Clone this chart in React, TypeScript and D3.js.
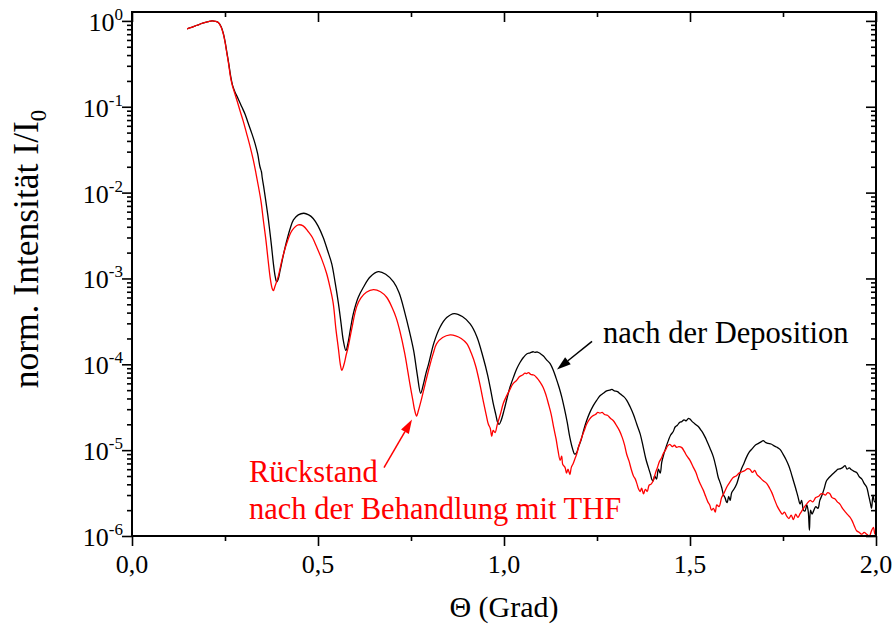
import React, { useEffect, useRef } from "react";
import * as d3 from "d3";

// Reflectivity curves: [theta in degrees, normalised intensity I/I0]
const depositionCurve: [number, number][] = [
  [0.148, 0.81], [0.16, 0.84], [0.175, 0.89], [0.19, 0.94], [0.205, 0.98], [0.215, 1.0],
  [0.224, 0.99], [0.232, 0.96], [0.24, 0.85], [0.246, 0.7], [0.25, 0.58], [0.255, 0.43],
  [0.26, 0.32], [0.265, 0.23], [0.27, 0.18], [0.277, 0.148], [0.285, 0.125], [0.295, 0.1],
  [0.304, 0.082], [0.312, 0.065], [0.322, 0.049], [0.331, 0.037], [0.338, 0.028], [0.344, 0.02],
  [0.348, 0.0175], [0.35, 0.015], [0.355, 0.011], [0.36, 0.0078], [0.365, 0.0055], [0.369, 0.004],
  [0.375, 0.0024], [0.38, 0.0015], [0.385, 0.00105], [0.389, 0.00091], [0.393, 0.00098],
  [0.398, 0.00123], [0.406, 0.0018], [0.416, 0.00275], [0.425, 0.0038], [0.434, 0.0048],
  [0.447, 0.0055], [0.462, 0.00575], [0.475, 0.0055], [0.487, 0.005], [0.5, 0.0041],
  [0.514, 0.003], [0.526, 0.0021], [0.537, 0.00148], [0.546, 0.0009], [0.555, 0.00051],
  [0.562, 0.0003], [0.568, 0.00019], [0.575, 0.000145], [0.581, 0.00018], [0.588, 0.00027],
  [0.595, 0.00039], [0.608, 0.0006], [0.622, 0.00079], [0.64, 0.00104], [0.662, 0.0012],
  [0.682, 0.00112], [0.703, 0.00091], [0.718, 0.00068], [0.734, 0.00039], [0.745, 0.00025],
  [0.757, 0.000145], [0.767, 7.5e-5], [0.776, 4.6e-5], [0.783, 5.8e-5], [0.79, 7.8e-5],
  [0.797, 0.0001], [0.812, 0.00018], [0.828, 0.00027], [0.846, 0.00035], [0.866, 0.00039],
  [0.888, 0.00036], [0.909, 0.000295], [0.927, 0.00021], [0.944, 0.00012], [0.956, 7.5e-5],
  [0.965, 4.8e-5], [0.971, 3.5e-5], [0.978, 2.6e-5], [0.983, 2.1e-5], [0.987, 2.0e-5],
  [0.992, 2.2e-5], [1.0, 2.9e-5], [1.008, 4.0e-5], [1.016, 5.4e-5], [1.025, 7.0e-5],
  [1.034, 8.8e-5], [1.043, 1.05e-4], [1.052, 1.2e-4], [1.061, 1.32e-4], [1.07, 1.36e-4],
  [1.078, 1.4e-4], [1.083, 1.38e-4], [1.09, 1.39e-4], [1.098, 1.33e-4], [1.106, 1.25e-4],
  [1.115, 1.12e-4], [1.124, 1.02e-4], [1.133, 8.4e-5], [1.14, 6.9e-5], [1.148, 5.4e-5],
  [1.155, 4.2e-5], [1.162, 3.1e-5], [1.17, 2.1e-5], [1.177, 1.41e-5], [1.184, 1.05e-5],
  [1.19, 9.0e-6], [1.195, 9.3e-6], [1.2, 1.08e-5], [1.207, 1.3e-5], [1.214, 1.7e-5],
  [1.222, 2.2e-5], [1.23, 2.7e-5], [1.24, 3.3e-5], [1.249, 3.8e-5], [1.258, 4.3e-5],
  [1.267, 4.6e-5], [1.276, 4.9e-5], [1.284, 5.0e-5], [1.29, 5.1e-5], [1.297, 4.9e-5],
  [1.305, 4.8e-5], [1.313, 4.5e-5], [1.322, 4.2e-5], [1.33, 3.8e-5], [1.339, 3.2e-5],
  [1.348, 2.6e-5], [1.357, 2.0e-5], [1.366, 1.55e-5], [1.374, 1.1e-5], [1.381, 8.0e-6],
  [1.388, 6.3e-6], [1.394, 5.2e-6], [1.398, 4.5e-6], [1.401, 4.4e-6], [1.405, 5.0e-6],
  [1.41, 4.6e-6], [1.415, 6.0e-6], [1.42, 5.4e-6], [1.424, 7.2e-6], [1.43, 9.1e-6],
  [1.436, 1.1e-5], [1.442, 1.3e-5], [1.448, 1.5e-5], [1.455, 1.65e-5], [1.46, 1.86e-5],
  [1.466, 1.95e-5], [1.472, 2.1e-5], [1.478, 2.15e-5], [1.484, 2.25e-5], [1.49, 2.2e-5],
  [1.496, 2.35e-5], [1.5, 2.3e-5], [1.506, 2.15e-5], [1.512, 2.05e-5], [1.518, 1.95e-5],
  [1.524, 1.85e-5], [1.53, 1.7e-5], [1.536, 1.55e-5], [1.542, 1.38e-5], [1.548, 1.2e-5],
  [1.555, 1.02e-5], [1.563, 8.3e-6], [1.57, 6.3e-6], [1.576, 4.8e-6], [1.58, 4.3e-6],
  [1.585, 3.7e-6], [1.59, 3.0e-6], [1.594, 2.8e-6], [1.598, 2.5e-6], [1.6, 2.45e-6],
  [1.604, 2.9e-6], [1.608, 2.6e-6], [1.612, 3.2e-6], [1.618, 3.5e-6], [1.626, 4.1e-6],
  [1.632, 5.0e-6], [1.638, 6.0e-6], [1.645, 7.0e-6], [1.652, 8.3e-6], [1.66, 9.6e-6],
  [1.668, 1.05e-5], [1.676, 1.15e-5], [1.684, 1.2e-5], [1.69, 1.24e-5], [1.697, 1.29e-5],
  [1.703, 1.23e-5], [1.71, 1.2e-5], [1.718, 1.18e-5], [1.726, 1.12e-5], [1.734, 1.08e-5],
  [1.742, 1.02e-5], [1.75, 9.0e-6], [1.758, 7.8e-6], [1.766, 6.5e-6], [1.772, 5.4e-6],
  [1.778, 4.4e-6], [1.784, 3.6e-6], [1.79, 2.9e-6], [1.796, 2.35e-6], [1.8, 2.6e-6],
  [1.805, 2.0e-6], [1.809, 1.95e-6], [1.814, 2.3e-6], [1.818, 1.9e-6], [1.821, 1.17e-6],
  [1.824, 2.0e-6], [1.828, 1.8e-6], [1.832, 1.95e-6], [1.838, 2.2e-6], [1.844, 2.1e-6],
  [1.849, 2.6e-6], [1.855, 3.0e-6], [1.861, 3.6e-6], [1.867, 4.4e-6], [1.874, 4.8e-6],
  [1.882, 5.2e-6], [1.89, 5.6e-6], [1.898, 6.0e-6], [1.905, 6.1e-6], [1.911, 6.3e-6],
  [1.917, 6.6e-6], [1.922, 6.0e-6], [1.928, 6.2e-6], [1.934, 5.9e-6], [1.94, 5.7e-6],
  [1.948, 5.5e-6], [1.955, 4.9e-6], [1.962, 4.6e-6], [1.968, 4.1e-6], [1.975, 3.7e-6],
  [1.98, 3.0e-6], [1.985, 2.4e-6], [1.988, 2.1e-6], [1.992, 3.0e-6], [1.996, 2.5e-6],
  [2.0, 2.6e-6],
];

const residueCurve: [number, number][] = [
  [0.148, 0.81], [0.16, 0.84], [0.175, 0.89], [0.19, 0.94], [0.205, 0.98], [0.215, 1.0],
  [0.224, 0.99], [0.232, 0.96], [0.24, 0.84], [0.246, 0.69], [0.25, 0.57], [0.255, 0.42],
  [0.26, 0.31], [0.265, 0.22], [0.27, 0.175], [0.277, 0.14], [0.283, 0.115], [0.29, 0.091],
  [0.299, 0.068], [0.308, 0.049], [0.317, 0.035], [0.326, 0.024], [0.333, 0.017],
  [0.34, 0.0117], [0.347, 0.0078], [0.353, 0.0048], [0.36, 0.0028], [0.366, 0.00162],
  [0.372, 0.00098], [0.377, 0.00076], [0.38, 0.00072], [0.384, 0.0008], [0.393, 0.00105],
  [0.404, 0.0017], [0.416, 0.00257], [0.43, 0.0036], [0.447, 0.0042], [0.46, 0.0041],
  [0.474, 0.0035], [0.485, 0.003], [0.496, 0.00235], [0.51, 0.00168], [0.523, 0.00115],
  [0.532, 0.0008], [0.541, 0.00051], [0.548, 0.00026], [0.555, 0.00015], [0.56, 0.0001],
  [0.564, 8.5e-5], [0.57, 0.0001], [0.576, 0.00013], [0.581, 0.000158], [0.59, 0.00025],
  [0.604, 0.00047], [0.615, 0.00059], [0.63, 0.00069], [0.649, 0.00074], [0.668, 0.0007],
  [0.685, 0.0006], [0.7, 0.00045], [0.71, 0.00035], [0.72, 0.000245], [0.733, 0.000135],
  [0.742, 8.0e-5], [0.747, 5.9e-5], [0.755, 3.8e-5], [0.76, 2.9e-5], [0.765, 2.5e-5],
  [0.77, 2.9e-5], [0.778, 3.9e-5], [0.788, 5.9e-5], [0.8, 9.5e-5], [0.81, 0.000135],
  [0.819, 0.000174], [0.835, 0.000205], [0.855, 0.00022], [0.87, 0.000215], [0.885, 0.0002],
  [0.9, 0.000174], [0.912, 0.000135], [0.924, 9.5e-5], [0.935, 5.9e-5], [0.945, 3.6e-5],
  [0.952, 2.6e-5], [0.958, 2.0e-5], [0.963, 1.8e-5], [0.967, 1.45e-5], [0.971, 1.7e-5],
  [0.976, 1.6e-5], [0.982, 2.0e-5], [0.99, 2.6e-5], [0.998, 3.5e-5], [1.006, 4.2e-5],
  [1.015, 5.0e-5], [1.024, 5.9e-5], [1.034, 6.5e-5], [1.042, 7.2e-5], [1.05, 7.5e-5],
  [1.056, 7.9e-5], [1.061, 7.8e-5], [1.066, 8.0e-5], [1.072, 7.6e-5], [1.08, 7.5e-5],
  [1.089, 6.9e-5], [1.097, 6.2e-5], [1.105, 5.4e-5], [1.112, 4.5e-5], [1.12, 3.4e-5],
  [1.127, 2.6e-5], [1.134, 1.8e-5], [1.14, 1.35e-5], [1.145, 1.0e-5], [1.151, 7.6e-6],
  [1.155, 8.5e-6], [1.158, 6.8e-6], [1.164, 6.3e-6], [1.168, 5.4e-6], [1.172, 6.0e-6],
  [1.177, 5.2e-6], [1.181, 6.3e-6], [1.186, 7.0e-6], [1.19, 7.8e-6], [1.195, 8.9e-6],
  [1.202, 1.15e-5], [1.21, 1.45e-5], [1.216, 1.7e-5], [1.222, 2.0e-5], [1.23, 2.3e-5],
  [1.238, 2.5e-5], [1.246, 2.6e-5], [1.252, 2.75e-5], [1.258, 2.7e-5], [1.264, 2.75e-5],
  [1.27, 2.6e-5], [1.278, 2.55e-5], [1.286, 2.35e-5], [1.294, 2.2e-5], [1.302, 1.95e-5],
  [1.31, 1.7e-5], [1.318, 1.4e-5], [1.324, 1.15e-5], [1.33, 8.9e-6], [1.336, 7.5e-6],
  [1.342, 6.0e-6], [1.348, 5.0e-6], [1.353, 4.6e-6], [1.357, 4.1e-6], [1.362, 3.5e-6],
  [1.366, 3.3e-6], [1.37, 3.6e-6], [1.375, 3.1e-6], [1.38, 3.5e-6], [1.385, 3.3e-6],
  [1.39, 3.9e-6], [1.395, 4.0e-6], [1.401, 4.4e-6], [1.407, 5.4e-6], [1.412, 6.2e-6],
  [1.418, 7.4e-6], [1.424, 8.2e-6], [1.428, 9.1e-6], [1.434, 1.0e-5], [1.44, 1.12e-5],
  [1.446, 1.17e-5], [1.452, 1.1e-5], [1.458, 1.14e-5], [1.464, 1.08e-5], [1.47, 1.1e-5],
  [1.478, 1.07e-5], [1.485, 9.6e-6], [1.492, 8.5e-6], [1.5, 7.6e-6], [1.509, 6.3e-6],
  [1.516, 5.5e-6], [1.522, 4.6e-6], [1.528, 4.0e-6], [1.536, 3.4e-6], [1.542, 2.9e-6],
  [1.548, 2.5e-6], [1.553, 2.3e-6], [1.558, 2.0e-6], [1.563, 2.1e-6], [1.568, 1.9e-6],
  [1.572, 2.3e-6], [1.578, 2.2e-6], [1.585, 2.8e-6], [1.592, 3.2e-6], [1.6, 3.8e-6],
  [1.608, 4.3e-6], [1.616, 4.8e-6], [1.624, 5.0e-6], [1.632, 5.4e-6], [1.64, 5.6e-6],
  [1.648, 5.8e-6], [1.655, 6.1e-6], [1.661, 6.0e-6], [1.668, 5.5e-6], [1.674, 5.8e-6],
  [1.68, 5.2e-6], [1.688, 4.8e-6], [1.697, 4.4e-6], [1.706, 4.1e-6], [1.714, 3.6e-6],
  [1.72, 3.2e-6], [1.728, 2.6e-6], [1.735, 2.2e-6], [1.742, 1.95e-6], [1.748, 1.8e-6],
  [1.754, 1.9e-6], [1.76, 1.7e-6], [1.766, 1.6e-6], [1.772, 1.75e-6], [1.778, 1.55e-6],
  [1.784, 1.8e-6], [1.79, 1.65e-6], [1.796, 1.82e-6], [1.802, 2.0e-6], [1.808, 2.2e-6],
  [1.815, 2.4e-6], [1.823, 2.6e-6], [1.83, 2.5e-6], [1.838, 2.8e-6], [1.846, 2.9e-6],
  [1.852, 3.1e-6], [1.858, 3.1e-6], [1.864, 3.0e-6], [1.87, 3.2e-6], [1.876, 3.1e-6],
  [1.882, 2.8e-6], [1.89, 2.7e-6], [1.896, 2.5e-6], [1.903, 2.35e-6], [1.91, 2.1e-6],
  [1.918, 1.9e-6], [1.925, 1.75e-6], [1.93, 1.66e-6], [1.936, 1.5e-6], [1.942, 1.3e-6],
  [1.948, 1.15e-6], [1.955, 1.1e-6], [1.962, 1.05e-6], [1.968, 1.1e-6], [1.975, 1.05e-6],
  [1.982, 1.0e-6], [1.988, 1.15e-6], [1.993, 1.26e-6], [1.997, 1.05e-6], [2.0, 1.2e-6],
];

const xMajorTicks = [0, 0.5, 1.0, 1.5, 2.0];
const xMinorTicks = [0.25, 0.75, 1.25, 1.75];
const yExponents = [0, -1, -2, -3, -4, -5, -6];

const xTitle = "Θ (Grad)";
const yTitle = "norm. Intensität I/I";
const depositionLabel = "nach der Deposition";
const residueLabel = ["Rückstand", "nach der Behandlung mit THF"];

// annotation anchors in data coordinates: [theta, intensity]
const depositionText: [number, number] = [1.266, 1.75e-4];
const depositionArrow: [number, number][] = [[1.2366, 1.85e-4], [1.1425, 8.7e-5]];
const residueText: [number, number][] = [[0.3145, 4.3e-6], [0.3145, 1.59e-6]];
const residueArrow: [number, number][] = [[0.6774, 6.25e-6], [0.7527, 2.27e-5]];

const W = 893;
const H = 629;
const margin = { top: 12, right: 17, bottom: 93, left: 132 };
const FONT = "Liberation Serif, DejaVu Serif, serif";

const App = () => {
  const svgRef = useRef<SVGSVGElement>(null);

  useEffect(() => {
    document.body.style.margin = "0";
    const svg = d3.select(svgRef.current);
    svg.selectAll("*").remove();

    const x = d3.scaleLinear().domain([0, 2]).range([margin.left, W - margin.right]);
    const y = d3.scaleLog().domain([1e-6, 1.27]).range([H - margin.bottom, margin.top]);
    const [x0, x1] = x.range();
    const [y0, y1] = y.range();

    const yMinor: number[] = [];
    for (let e = -6; e < 0; e++) for (let m = 2; m <= 9; m++) yMinor.push(m * Math.pow(10, e));

    // curves
    svg.append("clipPath").attr("id", "plot-clip")
      .append("rect").attr("x", x0).attr("y", y1).attr("width", x1 - x0).attr("height", y0 - y1);

    const line = d3.line<[number, number]>()
      .x(d => x(d[0]))
      .y(d => y(d[1]))
      .curve(d3.curveCatmullRom.alpha(0.5));

    const curves = svg.append("g").attr("clip-path", "url(#plot-clip)").attr("fill", "none");
    curves.append("path").attr("d", line(depositionCurve)).attr("stroke", "#000").attr("stroke-width", 1.3);
    curves.append("path").attr("d", line(residueCurve)).attr("stroke", "#ff0000").attr("stroke-width", 1.3);

    // ticks
    const ticks = (axis: any, transform: string) => {
      const g = svg.append("g").attr("transform", transform)
        .call(axis.tickSizeOuter(0).tickFormat(() => ""));
      g.select(".domain").remove();
      g.selectAll("text").remove();
      g.selectAll("line").attr("stroke", "#000").attr("stroke-width", 1.6);
    };
    ticks(d3.axisBottom(x).tickValues(xMajorTicks).tickSize(10), `translate(0,${y0})`);
    ticks(d3.axisBottom(x).tickValues(xMinorTicks).tickSize(5), `translate(0,${y0})`);
    ticks(d3.axisBottom(x).tickValues(xMajorTicks).tickSize(10), `translate(0,${y1})`);
    ticks(d3.axisBottom(x).tickValues(xMinorTicks).tickSize(5), `translate(0,${y1})`);
    const yMajor = yExponents.map(e => Math.pow(10, e));
    ticks(d3.axisLeft(y).tickValues(yMajor).tickSize(10), `translate(${x0},0)`);
    ticks(d3.axisLeft(y).tickValues(yMinor).tickSize(5), `translate(${x0},0)`);
    ticks(d3.axisLeft(y).tickValues(yMajor).tickSize(10), `translate(${x1},0)`);
    ticks(d3.axisLeft(y).tickValues(yMinor).tickSize(5), `translate(${x1},0)`);

    // frame
    svg.append("rect")
      .attr("x", x0).attr("y", y1).attr("width", x1 - x0).attr("height", y0 - y1)
      .attr("fill", "none").attr("stroke", "#000").attr("stroke-width", 2);

    const textStyle = (size: number) => `font-family: ${FONT}; font-size: ${size}px;`;

    // tick labels
    svg.append("g").selectAll("text").data(xMajorTicks).join("text")
      .attr("x", d => x(d)).attr("y", y0 + 37)
      .attr("text-anchor", "middle")
      .attr("style", textStyle(26))
      .text(d => d3.format(".1f")(d).replace(".", ","));

    const yl = svg.append("g").selectAll("text").data(yExponents).join("text")
      .attr("x", x0 - 9).attr("y", d => y(Math.pow(10, d)) + 10)
      .attr("text-anchor", "end")
      .attr("style", textStyle(26));
    yl.append("tspan").text("10");
    yl.append("tspan").attr("dy", -11).attr("style", "font-size: 17px;").text(d => String(d));

    // axis titles
    svg.append("text")
      .attr("x", (x0 + x1) / 2).attr("y", 617)
      .attr("text-anchor", "middle")
      .attr("style", textStyle(30))
      .text(xTitle);

    const yt = svg.append("text")
      .attr("transform", `translate(38,249) rotate(-90)`)
      .attr("text-anchor", "middle")
      .attr("style", textStyle(35.5));
    yt.append("tspan").text(yTitle);
    yt.append("tspan").attr("dy", 8).attr("style", "font-size: 23px;").text("0");

    // annotations
    svg.append("text")
      .attr("x", x(depositionText[0])).attr("y", y(depositionText[1]))
      .attr("style", textStyle(30.5))
      .text(depositionLabel);

    svg.append("g").selectAll("text").data(residueLabel).join("text")
      .attr("x", (_, i) => x(residueText[i][0])).attr("y", (_, i) => y(residueText[i][1]))
      .attr("fill", "#ff0000")
      .attr("style", textStyle(30.5))
      .text(d => d);

    const arrow = (pts: [number, number][], color: string) => {
      const [ax, ay] = [x(pts[0][0]), y(pts[0][1])];
      const [bx, by] = [x(pts[1][0]), y(pts[1][1])];
      const ang = Math.atan2(by - ay, bx - ax);
      const len = 14, half = 4.5;
      const baseX = bx - len * Math.cos(ang), baseY = by - len * Math.sin(ang);
      svg.append("line")
        .attr("x1", ax).attr("y1", ay).attr("x2", baseX).attr("y2", baseY)
        .attr("stroke", color).attr("stroke-width", 1.5);
      svg.append("polygon")
        .attr("points", [
          [bx, by],
          [baseX + half * Math.sin(ang), baseY - half * Math.cos(ang)],
          [baseX - half * Math.sin(ang), baseY + half * Math.cos(ang)],
        ].map(p => p.join(",")).join(" "))
        .attr("fill", color);
    };
    arrow(depositionArrow, "#000");
    arrow(residueArrow, "#ff0000");
  }, []);

  return (
    <div>
      <svg ref={svgRef} width={W} height={H} style={{ display: "block", background: "#fff" }} />
    </div>
  );
};

export default App;
